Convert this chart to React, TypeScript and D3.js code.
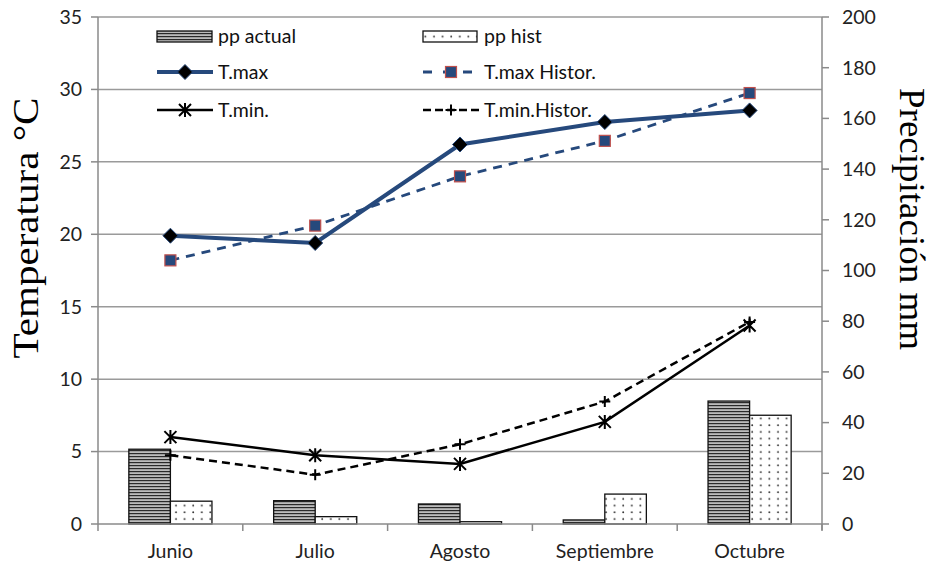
import React from "react";
import * as d3 from "d3";

const months = ["Junio", "Julio", "Agosto", "Septiembre", "Octubre"];
const ppActual = [29.5, 9.2, 7.9, 1.6, 48.5];
const ppHist = [9.0, 2.9, 0.9, 11.8, 42.9];
const tMax = [19.9, 19.4, 26.2, 27.75, 28.55];
const tMaxHist = [18.2, 20.6, 24.0, 26.45, 29.75];
const tMin = [6.0, 4.75, 4.15, 7.05, 13.7];
const tMinHist = [4.75, 3.4, 5.5, 8.45, 13.95];
const tempTicks = [0, 5, 10, 15, 20, 25, 30, 35];
const ppTicks = [0, 20, 40, 60, 80, 100, 120, 140, 160, 180, 200];

const W = 935;
const H = 567;
const L = 98;
const R = 822;
const T = 17;
const B = 524;
const BLUE = "#26497c";
const GRID = "#9a9a9a";
const AXIS = "#8a8a8a";
const FONT = "Lato, 'Open Sans', sans-serif";
const FS = 19.5;
const SERIF = "'Liberation Serif', 'DejaVu Serif', serif";

function Diamond({ x, y }: { x: number; y: number }) {
  const s = 7.5;
  return (
    <path
      d={`M${x},${y - s}L${x + s},${y}L${x},${y + s}L${x - s},${y}Z`}
      fill="#000"
      stroke={BLUE}
      strokeWidth={1}
    />
  );
}
function Square({ x, y }: { x: number; y: number }) {
  const s = 5.5;
  return <rect x={x - s} y={y - s} width={2 * s} height={2 * s} fill={BLUE} stroke="#c0504d" strokeWidth={1.2} />;
}
function Star({ x, y }: { x: number; y: number }) {
  const s = 6;
  return (
    <path
      d={`M${x - s},${y - s}L${x + s},${y + s}M${x - s},${y + s}L${x + s},${y - s}M${x},${y - s - 1}L${x},${y + s + 1}`}
      stroke="#000"
      strokeWidth={2}
      fill="none"
    />
  );
}
function Plus({ x, y }: { x: number; y: number }) {
  const s = 5.5;
  return <path d={`M${x - s},${y}L${x + s},${y}M${x},${y - s}L${x},${y + s}`} stroke="#000" strokeWidth={2} fill="none" />;
}

export default function App() {
  const x0 = d3.scaleBand<string>().domain(months).range([L, R]).padding(0);
  const bw = x0.bandwidth();
  const groupW = bw * 0.574;
  const x1 = d3.scaleBand<string>().domain(["a", "h"]).range([0, groupW]).padding(0);
  const yT = d3.scaleLinear().domain([0, 35]).range([B, T]);
  const yP = d3.scaleLinear().domain([0, 200]).range([B, T]);
  const cx = (m: string) => (x0(m) as number) + bw / 2;

  const line = (vals: number[]) =>
    d3
      .line<number>()
      .x((_, i) => cx(months[i]))
      .y((v) => yT(v))(vals) as string;

  const boundaries = [...months.map((m) => x0(m) as number), R];

  const legX1 = 157;
  const legX2 = 423;
  const legRows = [36, 72, 110];

  return (
    <svg width={W} height={H} style={{ position: "absolute", left: 0, top: 0 }}>
      <defs>
        <pattern id="stripes" patternUnits="userSpaceOnUse" width={6} height={3}>
          <rect width={6} height={3} fill="#bcbcbc" />
          <rect width={6} height={1.2} y={0} fill="#2a2a2a" />
        </pattern>
        <pattern id="dots" patternUnits="userSpaceOnUse" width={8.6} height={6.7}>
          <rect width={8.6} height={6.7} fill="#fff" />
          <circle cx={4} cy={3} r={0.95} fill="#333" />
        </pattern>
      </defs>
      <rect width={W} height={H} fill="#fff" />

      {/* gridlines */}
      {tempTicks.slice(1).map((t) => (
        <line key={t} x1={L} x2={R} y1={yT(t)} y2={yT(t)} stroke={GRID} strokeWidth={1.5} />
      ))}

      {/* bars */}
      {months.map((m, i) => {
        const gx = cx(m) - groupW / 2;
        return (
          <g key={m}>
            <rect
              x={gx + (x1("a") as number)}
              y={yP(ppActual[i])}
              width={x1.bandwidth()}
              height={B - yP(ppActual[i])}
              fill="url(#stripes)"
              stroke="#111"
              strokeWidth={1.3}
            />
            <rect
              x={gx + (x1("h") as number)}
              y={yP(ppHist[i])}
              width={x1.bandwidth()}
              height={B - yP(ppHist[i])}
              fill="url(#dots)"
              stroke="#111"
              strokeWidth={1.3}
            />
          </g>
        );
      })}

      {/* axes */}
      <line x1={L} x2={L} y1={T} y2={B} stroke={AXIS} strokeWidth={1.5} />
      <line x1={R} x2={R} y1={T} y2={B + 6} stroke={AXIS} strokeWidth={1.5} />
      <line x1={L} x2={R} y1={B} y2={B} stroke={AXIS} strokeWidth={1.5} />
      {tempTicks.map((t) => (
        <g key={t}>
          <line x1={L - 7} x2={L} y1={yT(t)} y2={yT(t)} stroke={AXIS} strokeWidth={1.5} />
          <text x={82} y={yT(t)} dy="0.35em" textAnchor="end" fontFamily={FONT} fontSize={FS} fill="#222">
            {t}
          </text>
        </g>
      ))}
      {ppTicks.map((t) => (
        <g key={t}>
          <line x1={R} x2={R + 7} y1={yP(t)} y2={yP(t)} stroke={AXIS} strokeWidth={1.5} />
          <text x={842} y={yP(t)} dy="0.35em" textAnchor="start" fontFamily={FONT} fontSize={FS} fill="#222">
            {t}
          </text>
        </g>
      ))}
      {boundaries.map((b, i) => (
        <line key={i} x1={b} x2={b} y1={B} y2={B + 7} stroke={AXIS} strokeWidth={1.5} />
      ))}
      {months.map((m) => (
        <text key={m} x={cx(m)} y={558} textAnchor="middle" fontFamily={FONT} fontSize={FS} fill="#222">
          {m}
        </text>
      ))}

      {/* lines */}
      <path d={line(tMinHist)} fill="none" stroke="#000" strokeWidth={2.5} strokeDasharray="8,5" />
      {tMinHist.map((v, i) => (
        <Plus key={i} x={cx(months[i])} y={yT(v)} />
      ))}
      <path d={line(tMin)} fill="none" stroke="#000" strokeWidth={2.5} />
      {tMin.map((v, i) => (
        <Star key={i} x={cx(months[i])} y={yT(v)} />
      ))}
      <path d={line(tMaxHist)} fill="none" stroke={BLUE} strokeWidth={2.8} strokeDasharray="9,7" />
      {tMaxHist.map((v, i) => (
        <Square key={i} x={cx(months[i])} y={yT(v)} />
      ))}
      <path d={line(tMax)} fill="none" stroke={BLUE} strokeWidth={4} />
      {tMax.map((v, i) => (
        <Diamond key={i} x={cx(months[i])} y={yT(v)} />
      ))}

      {/* legend */}
      <g fontFamily={FONT} fontSize={FS} fill="#111">
        <rect x={legX1} y={legRows[0] - 5} width={55} height={11} fill="url(#stripes)" stroke="#111" strokeWidth={1.3} />
        <text x={218} y={legRows[0]} dy="0.35em">pp actual</text>
        <rect x={legX2} y={legRows[0] - 5} width={54} height={11} fill="url(#dots)" stroke="#111" strokeWidth={1.3} />
        <text x={484} y={legRows[0]} dy="0.35em">pp hist</text>

        <line x1={legX1} x2={legX1 + 56} y1={legRows[1]} y2={legRows[1]} stroke={BLUE} strokeWidth={4} />
        <Diamond x={legX1 + 28} y={legRows[1]} />
        <text x={218} y={legRows[1]} dy="0.35em">T.max</text>
        <line x1={legX2} x2={legX2 + 56} y1={legRows[1]} y2={legRows[1]} stroke={BLUE} strokeWidth={2.8} strokeDasharray="9,11" />
        <Square x={legX2 + 28} y={legRows[1]} />
        <text x={484} y={legRows[1]} dy="0.35em">T.max Histor.</text>

        <line x1={legX1} x2={legX1 + 56} y1={legRows[2]} y2={legRows[2]} stroke="#000" strokeWidth={2.5} />
        <Star x={legX1 + 28} y={legRows[2]} />
        <text x={218} y={legRows[2]} dy="0.35em">T.min.</text>
        <line x1={legX2} x2={legX2 + 56} y1={legRows[2]} y2={legRows[2]} stroke="#000" strokeWidth={2.5} strokeDasharray="8,4" />
        <Plus x={legX2 + 28} y={legRows[2]} />
        <text x={484} y={legRows[2]} dy="0.35em">T.min.Histor.</text>
      </g>

      {/* axis titles */}
      <text
        transform={`translate(38,228) rotate(-90)`}
        textAnchor="middle"
        fontFamily={SERIF}
        fontSize={36}
        textLength={261}
        lengthAdjust="spacingAndGlyphs"
        fill="#000"
      >
        Temperatura °C
      </text>
      <text
        transform={`translate(900,219) rotate(90)`}
        textAnchor="middle"
        fontFamily={SERIF}
        fontSize={36}
        textLength={262}
        lengthAdjust="spacingAndGlyphs"
        fill="#000"
      >
        Precipitación mm
      </text>
    </svg>
  );
}
